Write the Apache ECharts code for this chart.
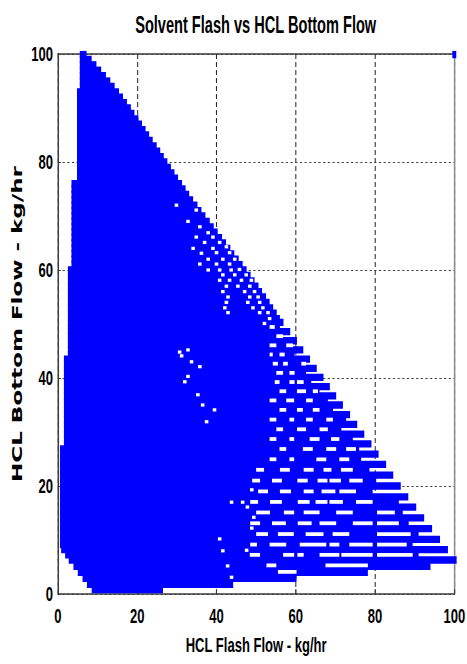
<!DOCTYPE html>
<html><head><meta charset="utf-8">
<script src="https://cdn.jsdelivr.net/npm/echarts@6/dist/echarts.min.js"></script>
<style>
html,body{margin:0;padding:0;overflow:hidden;background:#fff;width:467px;height:664px}
#wrap{width:467px;height:664px;overflow:hidden;position:relative}
#c{width:753px;height:664px;transform:scaleX(0.62019);transform-origin:0 0;position:absolute;left:0;top:0}
</style></head>
<body><div id="wrap"><div id="c"></div></div>
<script>
// Axis ticks
const xTicks = [0, 20, 40, 60, 80, 100];
const yTicks = [0, 20, 40, 60, 80, 100];

// Filled horizontal runs of markers: [y, xStart, xEnd]
const bands = [
 [0.8, 8.5, 26.5], [1.8, 7.3, 44.2], [2.9, 6.2, 60.2], [4.0, 5.0, 78.2], [5.1, 3.9, 94.0],
 [6.3, 2.7, 100.6], [7.25, 1.8, 91.0], [8.2, 0.8, 98.4], [9.15, 0.5, 89.5], [10.1, 0.5, 96.4],
 [11.1, 0.5, 91.0], [12.1, 0.5, 94.4], [13.1, 0.5, 88.5], [14.1, 0.5, 92.4], [15.1, 0.5, 87.0],
 [16.1, 0.5, 90.4], [17.05, 0.5, 86.0], [18.0, 0.5, 88.4], [19.0, 0.5, 79.4], [20.0, 0.5, 86.5],
 [21.0, 0.5, 80.3], [22.0, 0.5, 84.6], [23.0, 0.5, 78.6], [24.0, 0.5, 82.8], [24.95, 0.5, 76.5],
 [25.9, 0.5, 80.9], [26.85, 0.5, 76.0], [27.8, 1.5, 79.1], [28.7, 1.5, 74.4], [29.6, 1.5, 77.3],
 [30.5, 1.5, 71.5], [31.4, 1.5, 75.5], [32.3, 1.5, 72.7], [33.2, 1.5, 73.7], [34.1, 1.5, 69.4],
 [35.0, 1.5, 71.9], [35.85, 1.5, 68.1], [36.7, 1.5, 70.2], [37.55, 1.5, 66.0], [38.4, 1.5, 68.6],
 [39.25, 1.5, 63.9], [40.1, 1.5, 67.0], [40.95, 1.5, 62.6], [41.8, 1.5, 65.3], [42.65, 1.5, 62.6],
 [43.5, 1.5, 63.6], [44.35, 2.5, 59.7], [45.2, 2.5, 61.9], [46.05, 2.5, 59.3], [46.9, 2.5, 60.3],
 [47.75, 2.5, 56.8], [48.6, 2.5, 58.6], [49.45, 2.5, 56.0], [50.3, 2.5, 56.9],
 [51, 2.5, 56.0], [52, 2.5, 55.2], [53, 2.5, 54.3], [54, 2.5, 53.4], [55, 2.5, 52.5],
 [56, 2.5, 51.5], [57, 2.5, 50.6], [58, 2.5, 49.6], [59, 2.5, 48.6], [60, 2.5, 47.6],
 [61, 3.4, 46.6], [62, 3.4, 45.6], [63, 3.4, 44.5], [64, 3.4, 43.5], [65, 3.4, 42.4],
 [66, 3.4, 41.4], [67, 3.4, 40.3], [68, 3.4, 39.3], [69, 3.4, 38.3], [70, 3.4, 37.2],
 [71, 3.4, 36.2], [72, 3.4, 35.2], [73, 3.4, 34.1], [74, 3.4, 33.1], [75, 3.4, 32.2],
 [76, 3.4, 31.3], [77, 4.8, 30.3], [78, 4.8, 29.4], [79, 4.8, 28.5], [80, 4.8, 27.6],
 [81, 4.8, 26.7], [82, 4.8, 25.8], [83, 4.8, 24.9], [84, 4.8, 23.9], [85, 4.8, 23.0],
 [86, 4.8, 22.1], [87, 4.8, 21.2], [88, 4.8, 20.3], [89, 4.8, 19.3], [90, 4.8, 18.4],
 [91, 4.8, 17.4], [92, 4.8, 16.4], [93, 4.8, 15.4], [94, 5.5, 14.3], [95, 5.5, 13.2],
 [96, 5.5, 12.1], [97, 5.5, 10.9], [98, 5.5, 9.7], [99, 5.5, 8.5], [99.9, 5.5, 7.2],
 [99.9, 99.5, 100.5]
];

// White gaps between marker runs: [y, xStart, xEnd]
const gaps = [
 [4.1, 55.5, 60.2], [5.3, 52.6, 55.1], [5.3, 67.5, 78.2],
 [7.25, 48.4, 51], [7.25, 56.8, 59.6], [7.25, 60.4, 62], [7.25, 66, 71], [7.25, 71.5, 79.4], [7.25, 80.5, 89.5],
 [9.15, 48.5, 50.2], [9.15, 53.4, 57.6], [9.15, 61, 67.7], [9.15, 68.5, 71], [9.15, 73.5, 79.4], [9.15, 80.5, 88],
 [11.1, 50, 53], [11.1, 55.5, 59.5], [11.1, 62.5, 67], [11.1, 69.3, 73.5], [11.1, 80.5, 89],
 [13.1, 48.5, 51], [13.1, 54, 57.5], [13.1, 60.5, 64], [13.1, 66, 70.2], [13.1, 74.4, 79.4], [13.1, 80.5, 86],
 [15.1, 50, 53.5], [15.1, 57, 59.6], [15.1, 62, 66], [15.1, 70.2, 74.4], [15.1, 80.5, 85],
 [17.05, 48.5, 50.5], [17.05, 53.5, 56.5], [17.05, 60.5, 63.5], [17.05, 65, 68], [17.05, 68.5, 71.9], [17.05, 75.2, 79.4],
 [19.0, 50.5, 53], [19.0, 56, 58.8], [19.0, 62, 64.5], [19.0, 66.5, 70], [19.0, 71, 75.2],
 [21.0, 49, 51], [21.0, 54, 56.5], [21.0, 60.4, 63], [21.0, 65.5, 68], [21.0, 68.5, 71.4], [21.0, 73.5, 76.9],
 [23.0, 50, 52], [23.0, 56, 58.5], [23.0, 62, 64.5], [23.0, 67, 69], [23.0, 71.4, 74.4],
 [24.95, 53.4, 55.1], [24.95, 58.4, 59.6], [24.95, 65.2, 67.7], [24.95, 71, 73.5],
 [26.85, 55.9, 57.6], [26.85, 61.8, 64.3], [26.85, 67.7, 70.2], [26.85, 72.7, 75.2],
 [28.7, 53.4, 55.1], [28.7, 58.4, 59.6], [28.7, 63.5, 66], [28.7, 68.9, 71],
 [30.5, 55.1, 56.8], [30.5, 60.3, 62.6], [30.5, 66, 68.1],
 [32.3, 53.4, 55.1], [32.3, 58.4, 59.6], [32.3, 62.6, 64.3], [32.3, 67.7, 69.4],
 [34.1, 55.9, 57.6], [34.1, 60.3, 61.8], [34.1, 64.3, 66],
 [35.85, 53.4, 55.1], [35.85, 57.6, 59.6], [35.85, 62.6, 64.3],
 [37.55, 55.9, 57.6], [37.55, 60.3, 62.6], [37.55, 64.3, 65.6],
 [39.25, 54.7, 55.9], [39.25, 58.4, 59.7], [39.25, 60.3, 62],
 [40.95, 55.1, 56.8], [40.95, 58.4, 59.7],
 [42.65, 54.2, 55.5], [42.65, 56.8, 58], [42.65, 61.4, 62.6],
 [44.35, 53.4, 54.2], [44.35, 55.9, 57.2],
 [46.05, 53.4, 55.1], [46.05, 57.6, 59.3],
 [47.75, 55.1, 56.8], [49.45, 53.4, 54.7]
];

// Isolated white specks inside the filled area: [x, y]
const specks = [
 [29.9, 72.0], [34.9, 71.1], [32.8, 69.0], [35.8, 68.0], [37.9, 66.9], [34.9, 66.1], [39.1, 66.1],
 [37.0, 65.1], [40.8, 65.1], [34.1, 64.0], [39.1, 64.0], [42.5, 64.3], [36.2, 63.1], [40.0, 63.2],
 [43.3, 63.2], [37.9, 62.0], [41.6, 62.0], [44.6, 62.0], [35.8, 61.1], [40.0, 61.1], [43.3, 61.1],
 [37.9, 60.0], [40.8, 60.0], [43.7, 60.0], [45.8, 60.1], [41.6, 59.1], [44.6, 59.1], [47.5, 59.1],
 [40.8, 58.1], [43.3, 58.1], [46.3, 58.1], [48.8, 58.1], [42.5, 57.0], [45.4, 57.0], [48.4, 57.0],
 [41.6, 56.0], [47.1, 56.0], [49.6, 56.0], [42.9, 55.0], [48.4, 55.0], [50.5, 55.0], [42.5, 54.0],
 [47.9, 54.0], [50.9, 54.0], [42.1, 53.0], [49.2, 53.0], [51.7, 53.0], [42.9, 52.1], [50.9, 52.1],
 [53.0, 52.1], [53.4, 51.0], [52.1, 50.1],
 [32.8, 45.2], [31.2, 44.1], [33.7, 43.0], [35.8, 42.1], [32.8, 40.3], [30.7, 44.8], [32.0, 39.3],
 [35.3, 36.9], [36.5, 35.0], [39.5, 34.1], [37.5, 31.9],
 [40.8, 10.2], [41.6, 8.0], [42.8, 5.2], [43.8, 3.1], [43.8, 17.0], [46.6, 17.0], [48.9, 19.3],
 [47.6, 8.1], [48.9, 12.2], [49.4, 14.2], [47.8, 16.1]
];

const BAND_H = 1.35, GAP_H = 0.7, SPECK_W = 0.9, SPECK_H = 0.6;
const BLUE = '#0000ff';

function runItem(h, color) {
  return function (params, api) {
    const y = api.value(0), x0 = api.value(1), x1 = api.value(2);
    const p0 = api.coord([x0, y]);
    const p1 = api.coord([x1, y]);
    const hh = api.size([0, h])[1];
    return { type: 'rect', shape: { x: p0[0], y: p0[1] - hh / 2, width: p1[0] - p0[0], height: hh },
             style: { fill: color } };
  };
}
function speckItem(params, api) {
  const x = api.value(0), y = api.value(1);
  const p = api.coord([x, y]);
  const s = api.size([SPECK_W, SPECK_H]);
  return { type: 'rect', shape: { x: p[0] - s[0] / 2, y: p[1] - s[1] / 2, width: s[0], height: s[1] },
           style: { fill: '#ffffff' } };
}

const labelFont = { color: '#000', fontFamily: 'Liberation Sans, Arial, sans-serif', fontWeight: 'bold', fontSize: 21 };
const chart = echarts.init(document.getElementById('c'), null, { renderer: 'svg' });
chart.setOption({
  backgroundColor: '#fff',
  animation: false,
  title: {
    text: 'Solvent Flash vs HCL Bottom Flow',
    left: 218, top: 13, padding: 0,
    textStyle: { color: '#000', fontFamily: 'Liberation Sans, Arial, sans-serif', fontWeight: 'bold', fontSize: 23.5 }
  },
  grid: { left: 93.5, right: 19, top: 54, bottom: 70, containLabel: false },
  xAxis: [{
    type: 'value', min: xTicks[0], max: xTicks[xTicks.length - 1], interval: 20,
    name: 'HCL Flash Flow - kg/hr', nameLocation: 'middle', nameGap: 40,
    nameTextStyle: labelFont,
    axisLine: { show: true, onZero: false, lineStyle: { color: '#3c3c3c', width: 1.5 } },
    axisTick: { show: true, inside: true, length: 5, lineStyle: { color: '#3c3c3c', width: 1.6 } },
    axisLabel: Object.assign({ margin: 11 }, labelFont),
    splitLine: { show: true, lineStyle: { color: '#222', width: 1.6, type: [5, 3] } }
  }, {
    type: 'value', position: 'top', min: 0, max: 100,
    axisLine: { show: true, onZero: false, lineStyle: { color: '#3c3c3c', width: 1.5 } },
    axisTick: { show: false }, axisLabel: { show: false }, splitLine: { show: false }
  }],
  yAxis: [{
    type: 'value', min: yTicks[0], max: yTicks[yTicks.length - 1], interval: 20,
    name: 'HCL Bottom Flow - kg/hr', nameLocation: 'middle', nameGap: 48, nameRotate: 90,
    nameTextStyle: { color: '#000', fontFamily: 'DejaVu Sans, Verdana, sans-serif', fontWeight: 'bold', fontSize: 23 },
    axisLine: { show: true, onZero: false, lineStyle: { color: '#3c3c3c', width: 2.4 } },
    axisTick: { show: true, inside: true, length: 5, lineStyle: { color: '#3c3c3c', width: 1 } },
    axisLabel: Object.assign({ margin: 8 }, labelFont),
    splitLine: { show: true, lineStyle: { color: '#111', width: 1, type: [3.5, 4] } }
  }, {
    type: 'value', position: 'right', min: 0, max: 100,
    axisLine: { show: true, onZero: false, lineStyle: { color: '#8a8a8a', width: 2.4 } },
    axisTick: { show: false }, axisLabel: { show: false }, splitLine: { show: false }
  }],
  series: [
    { type: 'custom', name: 'runs', renderItem: runItem(BAND_H, BLUE), data: bands,
      encode: { x: [1, 2], y: 0 }, z: 2, silent: true },
    { type: 'custom', name: 'gaps', renderItem: runItem(GAP_H, '#ffffff'), data: gaps,
      encode: { x: [1, 2], y: 0 }, z: 3, silent: true },
    { type: 'custom', name: 'specks', renderItem: speckItem, data: specks,
      encode: { x: 0, y: 1 }, z: 4, silent: true }
  ]
});
</script></body></html>
